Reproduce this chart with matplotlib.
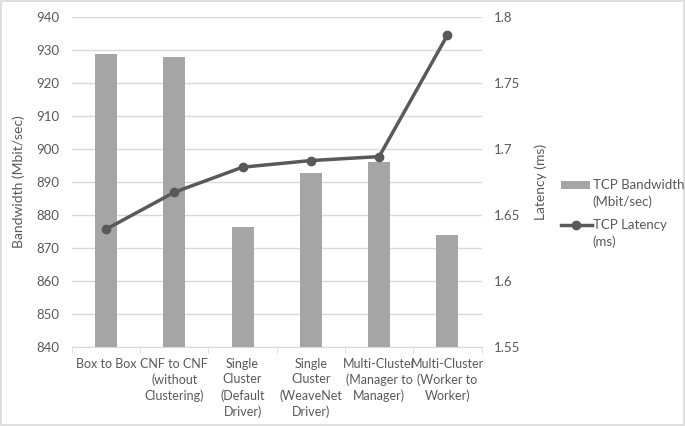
import matplotlib
matplotlib.use('Agg')
import matplotlib.pyplot as plt
import numpy as np
from matplotlib.lines import Line2D

plt.rcParams['font.family'] = ['Lato', 'DejaVu Sans']

# data
categories = ['Box to Box', 'CNF to CNF\n(without\nClustering)', 'Single\nCluster\n(Default\nDriver)',
              'Single\nCluster\n(WeaveNet\nDriver)', 'Multi-Cluster\n(Manager to\nManager)',
              'Multi-Cluster\n(Worker to\nWorker)']
bandwidth = [928.6, 927.9, 876.2, 892.5, 896.0, 874.0]
latency = [1.639, 1.667, 1.686, 1.691, 1.694, 1.786]
series_names = ['TCP Bandwidth\n(Mbit/sec)', 'TCP Latency\n(ms)']

txt = '#595959'
bar_col = '#a5a5a5'
line_col = '#595959'
grid_col = '#d9d9d9'

fig = plt.figure(figsize=(6.85, 4.26), dpi=100)
ax = fig.add_axes([0.105, 0.186, 0.598, 0.775])
ax2 = ax.twinx()

x = np.arange(len(categories))
ax.bar(x, bandwidth, width=0.32, color=bar_col, zorder=2)
ax2.plot(x, latency, color=line_col, lw=2.5, marker='o', ms=6, zorder=3)

ax.set_xlim(-0.5, len(categories) - 0.5)
ax.set_ylim(840, 940)
ax.set_yticks(np.arange(840, 941, 10))
ax2.set_ylim(1.55, 1.8)
ax2.set_yticks([1.55, 1.6, 1.65, 1.7, 1.75, 1.8])
ax2.set_yticklabels(['1.55', '1.6', '1.65', '1.7', '1.75', '1.8'])

ax.yaxis.grid(True, color=grid_col, lw=1, zorder=0)
ax.set_axisbelow(True)

for a in (ax, ax2):
    for s in a.spines.values():
        s.set_visible(False)
    a.tick_params(axis='y', length=0, colors=txt, labelsize=9.5, pad=9)
ax.spines['bottom'].set_visible(True)
ax.spines['bottom'].set_color(grid_col)

ax.set_xticks(x)
ax.set_xticklabels(categories, fontsize=9, color=txt, linespacing=1.35, va='top')
ax.tick_params(axis='x', which='major', length=0, pad=8)
ax.set_xticks(np.arange(-0.5, len(categories), 1), minor=True)
ax.tick_params(axis='x', which='minor', length=4, color=grid_col)

ax.set_ylabel('Bandwidth (Mbit/sec)', color=txt, fontsize=10, labelpad=8)
ax2.set_ylabel('Latency (ms)', color=txt, fontsize=10, labelpad=10)

# legend drawn by hand so the keys line up with the first text line, as in Excel
fig.patches.append(plt.Rectangle((0.819, 0.556), 0.042, 0.019, transform=fig.transFigure,
                                 facecolor=bar_col, edgecolor='none'))
fig.lines.append(Line2D([0.819, 0.864], [0.472, 0.472], transform=fig.transFigure,
                        color=line_col, lw=2.5))
fig.lines.append(Line2D([0.8415], [0.472], transform=fig.transFigure, color=line_col,
                        marker='o', ms=6))
for name, yy in zip(series_names, (0.566, 0.472)):
    fig.text(0.865, yy + 0.013, name, fontsize=9.5, color=txt, va='top', ha='left',
             linespacing=1.35)

# light frame around the chart
fig.patches.append(plt.Rectangle((0.002, 0.003), 0.996, 0.994, transform=fig.transFigure,
                                 fill=False, edgecolor='#d9d9d9', lw=1.2))

fig.savefig('out.png', dpi=100)
